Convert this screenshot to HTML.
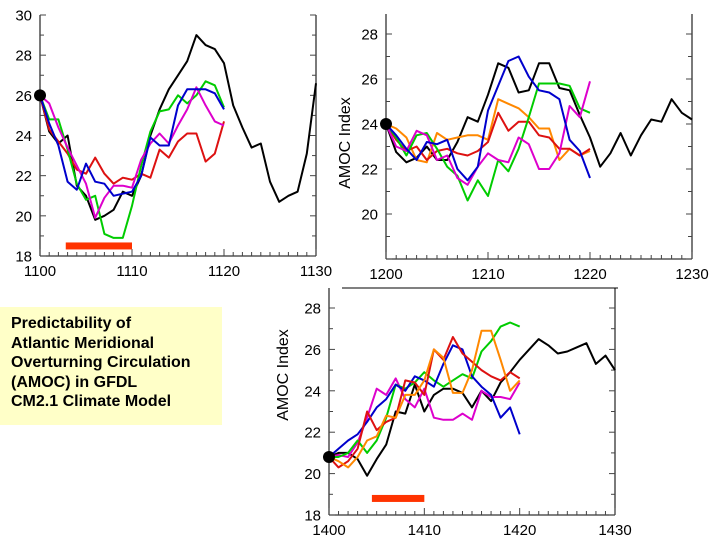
<!DOCTYPE html>
<html><head><meta charset="utf-8"><style>
body{margin:0;background:#fff;width:720px;height:540px;overflow:hidden;font-family:"Liberation Sans",sans-serif}
#box{position:absolute;left:0;top:307px;width:222px;height:118px;background:#ffffc8;font-weight:bold;font-size:16px;line-height:19.5px;padding:7px 0 0 11px;box-sizing:border-box;color:#000;white-space:nowrap}
svg{position:absolute;left:0;top:0}
</style></head><body>
<div id="box">Predictability of<br>Atlantic Meridional<br>Overturning Circulation<br>(AMOC) in GFDL<br>CM2.1 Climate Model</div>
<svg id="s" width="720" height="540"></svg>
<script>
const colors=["#000000","#00cc00","#0000cc","#dd00cc","#dd1111","#ff8800"];
const p1Black=[26,24.2,23.6,24,21.5,21,19.8,20,20.3,21.2,21,22,24,25.3,26.3,27,27.7,29,28.5,28.3,27.6,25.5,24.4,23.4,23.6,21.7,20.7,21,21.2,23.1,26.6];
const p1Green=[26,24.8,24.8,23.3,21.6,20.8,21,19.1,18.9,18.9,20.5,22.5,24.2,25.2,25.3,26,25.6,26,26.7,26.5,25.4];
const p1Blue=[26,24.6,23.5,21.7,21.3,22.6,21.7,21.6,21,21.1,21.2,22,23.9,23.5,23.5,25.5,26.3,26.3,26.3,26.1,25.3];
const p1Magenta=[26,25.6,24.4,23.4,22.5,21.6,19.9,20.9,21.5,21.5,21.4,22.8,23.6,24.1,23.6,24.5,25.3,26.4,25.5,24.7,24.5];
const p1Red=[26,24.3,23.7,23.1,22.3,22.1,22.9,22.1,21.6,21.9,21.8,22.1,21.9,23.3,22.9,23.7,24.1,24.1,22.7,23.1,24.7];
const p2Black=[24,22.75,22.3,22.5,23,22.4,22.4,23.2,24.3,24.1,25.3,26.7,26.5,25.4,25.5,26.7,26.7,25.6,25.5,24.4,23.4,22.1,22.7,23.6,22.6,23.5,24.2,24.1,25.1,24.5,24.2];
const p2Green=[24,23.4,22.6,23.5,23.6,22.9,22.1,21.7,20.6,21.5,20.8,22.4,21.9,22.9,24.3,25.8,25.8,25.8,25.7,24.7,24.5];
const p2Blue=[24,23.5,22.9,22.4,23.2,23.1,23.3,22,21.5,22.1,24.6,25.7,26.8,27,26.1,25.5,25.4,25.1,23.3,22.8,21.6];
const p2Magenta=[24,23,22.8,23.7,23.5,22.4,22.6,21.6,21.3,22.1,22.7,22.4,22.3,23.4,23.1,22,22,22.7,24.8,24.3,25.9];
const p2Red=[24,23.3,22.8,23,22.4,22.8,22.9,22.7,22.6,22.8,23.2,24.5,23.7,24.1,24.1,23.5,23.4,22.9,22.9,22.6,22.9];
const p2Orange=[24,23.8,23.4,22.4,22.3,23.6,23.3,23.4,23.5,23.5,23.3,25.1,24.9,24.7,24.3,23.8,23.8,22.4,22.9,22.6,22.8];
const p3Black=[20.8,21,21,20.7,19.9,20.7,21.4,23,22.9,24.3,23,23.8,24.1,24.1,23.9,23.2,24,23.5,24.4,24.9,25.5,26,26.5,26.2,25.8,25.9,26.1,26.3,25.3,25.7,25];
const p3Green=[20.8,20.8,21,21.6,21,21.6,22.7,24.3,24.1,24.4,24.9,24.5,24.2,24.5,24.8,24.6,25.9,26.4,27.1,27.3,27.1];
const p3Blue=[20.8,21.2,21.6,21.9,22.5,23.2,23.6,24.3,24,24.7,24.5,24.2,25.3,26.2,26,24.7,24.2,23.8,22.7,23.2,21.9];
const p3Magenta=[20.8,20.9,20.8,21.5,22.7,24.1,23.8,24.6,23.6,23.2,24.1,22.7,22.6,22.6,22.9,22.6,24,23.7,23.7,23.6,24.4];
const p3Red=[20.8,20.3,20.6,21.2,23,22.1,22.5,22.7,24.5,24.4,23.8,26,25.5,26.6,25.8,25.4,25,24.7,24.5,24.9,24.6];
const p3Orange=[20.8,20.6,20.3,20.8,21.6,21.8,22.8,22.7,23.8,23.8,24.5,26,25.6,23.9,23.9,25,26.9,26.9,25.5,24,24.5];
const p1Labels=[18,20,22,24,26,28,30], p2Labels=[20,22,24,26,28], p3Labels=[18,20,22,24,26,28];
const p1Bar=[1102.8,1110,18.5], p3Bar=[1404.5,1410,18.8];

const svg=document.getElementById('s');const NS='http://www.w3.org/2000/svg';
function mk(t,a,parent){const e=document.createElementNS(NS,t);for(const k in a)e.setAttribute(k,a[k]);(parent||svg).appendChild(e);return e;}
function panel(cfg){
  const g=mk('g',{});
  
  
  const X=v=>cfg.x0+(v-cfg.xs)/30*(cfg.x1-cfg.x0);
  const Y=v=>cfg.y0+(v-cfg.ylo)/(cfg.yhi-cfg.ylo)*(cfg.y1-cfg.y0);
  const top=cfg.top;
  mk('line',{x1:cfg.x0,y1:top,x2:cfg.x0,y2:cfg.y0,stroke:'#333','stroke-width':1.3},g);
  mk('line',{x1:cfg.x1,y1:top,x2:cfg.x1,y2:cfg.y0,stroke:'#333','stroke-width':1.3},g);
  mk('line',{x1:cfg.x0,y1:cfg.y0,x2:cfg.x1,y2:cfg.y0,stroke:'#333','stroke-width':1.3},g);
  for(let v=Math.ceil(cfg.ylo);v<=cfg.yTop;v++){const y=Y(v);const L=v%2==0?6:4;
    mk('line',{x1:cfg.x0,y1:y,x2:cfg.x0+L,y2:y,stroke:'#444'},g);
    mk('line',{x1:cfg.x1,y1:y,x2:cfg.x1-L,y2:y,stroke:'#444'},g);}
  for(let i=0;i<=30;i++){const x=X(cfg.xs+i);const L=i%10==0?7:4;
    mk('line',{x1:x,y1:cfg.y0,x2:x,y2:cfg.y0-L,stroke:'#444'},g);}
  cfg.labels.forEach(v=>{const t=mk('text',{x:cfg.x0-8,y:Y(v)+5.5,'text-anchor':'end','font-size':15},g);t.textContent=v;
    
    });
  [0,10,20,30].forEach(i=>{const t=mk('text',{x:X(cfg.xs+i),y:cfg.y0+20,'text-anchor':'middle','font-size':15},g);t.textContent=cfg.xs+i;
    
    });
  if(cfg.title){const t=mk('text',{x:0,y:0,'text-anchor':'middle','font-size':16,transform:`translate(${cfg.titleX},${cfg.titleY}) rotate(-90)`},g);t.textContent='AMOC Index';
    
    }
  if(cfg.bar){const r=mk('rect',{x:X(cfg.bar[0]),y:Y(cfg.bar[2])-3.5,width:X(cfg.bar[1])-X(cfg.bar[0]),height:7,fill:'#ff3300'},g);
    
    }
  cfg.series.forEach(([arr,c,nm])=>{const pts=arr.map((v,i)=>X(cfg.xs+i).toFixed(1)+','+Y(v).toFixed(1)).join(' ');
    const l=mk('polyline',{points:pts,fill:'none',stroke:c,'stroke-width':2,'stroke-linejoin':'round'},g);
    
    });
  const d=mk('circle',{cx:X(cfg.xs),cy:Y(cfg.series[0][0][0]),r:6,fill:'#000'},g);
  
  
}
panel({name:'panel-1100',xs:1100,x0:40,x1:316,y0:256,y1:15,ylo:18,yhi:30,yTop:30,top:15,labels:p1Labels,bar:p1Bar,
 series:[[p1Black,colors[0],'control-run-line'],[p1Red,colors[4],'ensemble-red-line'],[p1Green,colors[1],'ensemble-green-line'],[p1Magenta,colors[3],'ensemble-magenta-line'],[p1Blue,colors[2],'ensemble-blue-line']]});
panel({name:'panel-1200',xs:1200,x0:386,x1:692,y0:259,y1:214,ylo:18,yhi:20,yTop:28,top:14,labels:p2Labels,title:true,titleX:350,titleY:143,
 series:[[p2Black,colors[0],'control-run-line'],[p2Orange,colors[5],'ensemble-orange-line'],[p2Red,colors[4],'ensemble-red-line'],[p2Green,colors[1],'ensemble-green-line'],[p2Magenta,colors[3],'ensemble-magenta-line'],[p2Blue,colors[2],'ensemble-blue-line']]});
panel({name:'panel-1400',xs:1400,x0:329,x1:615,y0:515,y1:308,ylo:18,yhi:28,yTop:28,top:288,labels:p3Labels,bar:p3Bar,title:true,titleX:288,titleY:375,
 series:[[p3Black,colors[0],'control-run-line'],[p3Magenta,colors[3],'ensemble-magenta-line'],[p3Green,colors[1],'ensemble-green-line'],[p3Blue,colors[2],'ensemble-blue-line'],[p3Red,colors[4],'ensemble-red-line'],[p3Orange,colors[5],'ensemble-orange-line']]});
const ln=mk('line',{x1:342,y1:288,x2:618,y2:288,stroke:'#000','stroke-width':1});


</script>
</body></html>
